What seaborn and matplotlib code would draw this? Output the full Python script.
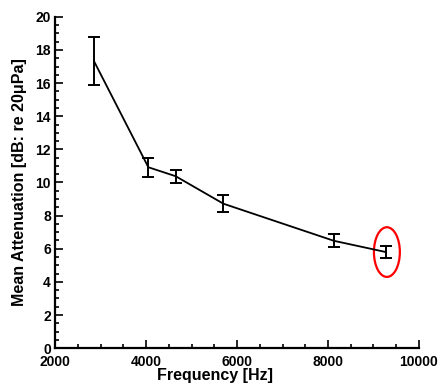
"""
Mean attenuation vs frequency with error bars
"""
import pandas as pd
import numpy as np
import matplotlib
matplotlib.use("Agg")
import matplotlib.pyplot as plt
import matplotlib.transforms as mtransforms
import seaborn as sns
from matplotlib.patches import Ellipse
from matplotlib.ticker import MultipleLocator

# Data
freq = [2850, 4050, 4650, 5700, 8130, 9275]
mean_att = [17.35, 10.92, 10.38, 8.72, 6.48, 5.80]
err = [1.45, 0.57, 0.40, 0.50, 0.40, 0.36]

df = pd.DataFrame({'Frequency': freq, 'Attenuation': mean_att, 'Err': err})

sns.set_style('ticks')
plt.rcParams['font.family'] = ['Liberation Sans', 'DejaVu Sans']
plt.rcParams['text.color'] = 'black'
plt.rcParams['axes.labelcolor'] = 'black'
plt.rcParams['xtick.color'] = 'black'
plt.rcParams['ytick.color'] = 'black'

fig = plt.figure(figsize=(4.41, 3.83), dpi=100)
ax = fig.add_axes([0.125, 0.091, 0.825, 0.865])

sns.lineplot(x='Frequency', y='Attenuation', data=df, ax=ax, color='black', linewidth=1.3)
ax.errorbar(df['Frequency'], df['Attenuation'], yerr=df['Err'], fmt='none',
            ecolor='black', elinewidth=1.4, capsize=4.3, capthick=1.4)

# highlight last point
last = df.iloc[-1]
ax.add_patch(Ellipse((last['Frequency'] + 20, last['Attenuation']), width=570, height=3.0,
                     fill=False, edgecolor='red', linewidth=1.6))

ax.set_xlim(2000, 10000)
ax.set_ylim(0, 20)
ax.xaxis.set_major_locator(MultipleLocator(2000))
ax.xaxis.set_minor_locator(MultipleLocator(500))
ax.yaxis.set_major_locator(MultipleLocator(2))
ax.yaxis.set_minor_locator(MultipleLocator(0.5))
ax.tick_params(which='both', direction='in', width=1.2)
ax.tick_params(which='major', length=6, labelsize=10, pad=3)
ax.tick_params(which='minor', length=3)
ax.tick_params(axis='x', which='major', pad=5)
for lbl in ax.get_xticklabels() + ax.get_yticklabels():
    lbl.set_fontweight('bold')

# nudge the "0" label up a bit so it doesn't sit on "2000"
fig.canvas.draw()
ylabels = ax.get_yticklabels()
ylabels[0].set_transform(ylabels[0].get_transform() +
                         mtransforms.ScaledTranslation(0, 3 / 72, fig.dpi_scale_trans))

sns.despine(ax=ax)
for s in ['left', 'bottom']:
    ax.spines[s].set_linewidth(1.6)
    ax.spines[s].set_color('black')

ax.set_xlabel('Frequency [Hz]', fontsize=11.5, fontweight='bold')
ax.set_ylabel('Mean Attenuation [dB: re 20μPa]', fontsize=11.5, fontweight='bold', labelpad=6)
ax.xaxis.set_label_coords(0.44, -0.06)

plt.savefig('out.png', dpi=100)
